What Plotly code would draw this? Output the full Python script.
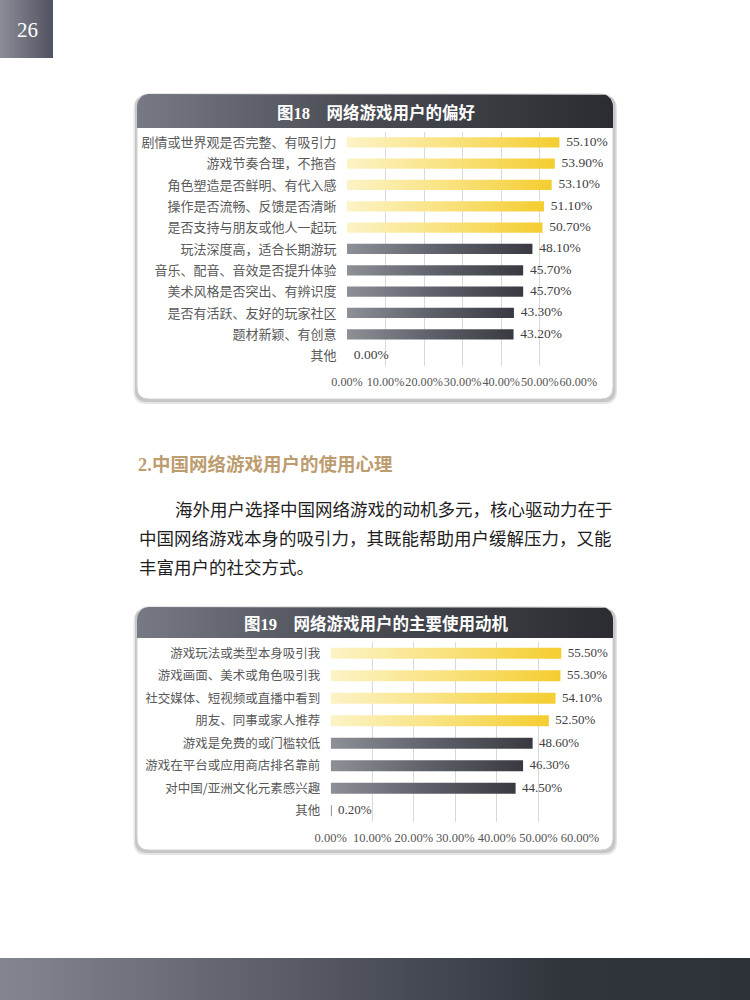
import numpy as np
import plotly.graph_objects as go

# Chart data
pref_labels = ["剧情或世界观是否完整、有吸引力", "游戏节奏合理，不拖沓", "角色塑造是否鲜明、有代入感",
               "操作是否流畅、反馈是否清晰", "是否支持与朋友或他人一起玩", "玩法深度高，适合长期游玩",
               "音乐、配音、音效是否提升体验", "美术风格是否突出、有辨识度", "是否有活跃、友好的玩家社区",
               "题材新颖、有创意", "其他"]
pref_values = [55.1, 53.9, 53.1, 51.1, 50.7, 48.1, 45.7, 45.7, 43.3, 43.2, 0.0]

motive_labels = ["游戏玩法或类型本身吸引我", "游戏画面、美术或角色吸引我", "社交媒体、短视频或直播中看到",
                 "朋友、同事或家人推荐", "游戏是免费的或门槛较低", "游戏在平台或应用商店排名靠前",
                 "对中国/亚洲文化元素感兴趣", "其他"]
motive_values = [55.5, 55.3, 54.1, 52.5, 48.6, 46.3, 44.5, 0.2]

x_ticks = [0, 10, 20, 30, 40, 50, 60]
x_tick_labels = ["0.00%", "10.00%", "20.00%", "30.00%", "40.00%", "50.00%", "60.00%"]

title18 = "网络游戏用户的偏好"
title19 = "网络游戏用户的主要使用动机"
section_title = "中国网络游戏用户的使用心理"
para_lines = ["海外用户选择中国网络游戏的动机多元，核心驱动力在于",
              "中国网络游戏本身的吸引力，其既能帮助用户缓解压力，又能",
              "丰富用户的社交方式。"]

W, H = 750, 1000
SANS = "Noto Sans CJK SC"
SERIF = "Liberation Serif"
GOLD = [[0, "#fcf3c6"], [0.5, "#f9e27e"], [1, "#f4cd30"]]
DARK = [[0, "#8e9098"], [0.5, "#5f616a"], [1, "#393a41"]]


def fx(px):
    return px / W


def fy(py):
    return 1 - py / H


def rounded(x0, y0, x1, y1, r, top=True, bottom=True, n=10):
    xs, ys = [], []
    corners = [(x0 + r, y0 + r, 180, 270, top), (x1 - r, y0 + r, 270, 360, top),
               (x1 - r, y1 - r, 0, 90, bottom), (x0 + r, y1 - r, 90, 180, bottom)]
    sq = [(x0, y0), (x1, y0), (x1, y1), (x0, y1)]
    for k, (cx, cy, a0, a1, rnd) in enumerate(corners):
        if rnd:
            t = np.radians(np.linspace(a0, a1, n))
            xs += list(cx + r * np.cos(t))
            ys += list(cy + r * np.sin(t))
        else:
            xs.append(sq[k][0])
            ys.append(sq[k][1])
    return xs + [xs[0]], ys + [ys[0]]


def shape_path(x0, y0, x1, y1, r):
    return (f"M{x0},{y0 + r} Q{x0},{y0} {x0 + r},{y0} L{x1 - r},{y0} Q{x1},{y0} {x1},{y0 + r} "
            f"L{x1},{y1 - r} Q{x1},{y1} {x1 - r},{y1} L{x0 + r},{y1} Q{x0},{y1} {x0},{y1 - r} Z")


fig = go.Figure()


def decor(xs, ys, scale, direction="horizontal"):
    fig.add_trace(go.Scatter(x=xs, y=ys, fill="toself", mode="lines", line=dict(width=0),
                             fillcolor=scale[-1][1],
                             fillgradient=dict(type=direction, colorscale=scale),
                             xaxis="x", yaxis="y", hoverinfo="skip", showlegend=False))


# page decorations (pixel axis)
HEAD = [[0, "#777a84"], [0.45, "#4b4d55"], [1, "#2a2c31"]]
decor([0, 53, 53, 0, 0], [0, 0, 58, 58, 0], [[0, "#8a8d98"], [1, "#515460"]])
decor([0, 750, 750, 0, 0], [958, 958, 1000, 1000, 958],
      [[0, "#83858f"], [0.45, "#52555e"], [0.75, "#30353c"], [1, "#2d3238"]])
for (y0, y1) in [(94, 128), (607, 638)]:
    xs, ys = rounded(137, y0, 613, y1 + 12, 12, top=True, bottom=False)
    ys = [min(v, y1) for v in ys]
    decor(xs, ys, HEAD)

shapes = []
for (y0, y1) in [(94, 399), (607, 850)]:
    shapes.append(dict(type="path", xref="x", yref="y", layer="below",
                       path=shape_path(133.5, y0 + 2, 617, y1 + 5, 13),
                       fillcolor="#d4d4d4", line=dict(width=0), opacity=0.6))
    shapes.append(dict(type="path", xref="x", yref="y", layer="below",
                       path=shape_path(135, y0 + 1, 615.5, y1 + 3, 12),
                       fillcolor="#b0b0b0", line=dict(width=0), opacity=0.6))
    shapes.append(dict(type="path", xref="x", yref="y", layer="below",
                       path=shape_path(137, y0, 613, y1, 12),
                       fillcolor="white", line=dict(color="#d0d0d0", width=1)))


def add_chart(labels, values, n_gold, xa, ya, h, fsize):
    for i, v in enumerate(values):
        if v <= 0:
            continue
        scale = GOLD if i < n_gold else DARK
        fig.add_trace(go.Scatter(x=[0, v, v, 0, 0], y=[i - h, i - h, i + h, i + h, i - h],
                                 fill="toself", mode="lines", line=dict(width=0),
                                 fillcolor=scale[-1][1],
                                 fillgradient=dict(type="horizontal", colorscale=scale),
                                 xaxis=xa, yaxis=ya, hoverinfo="skip", showlegend=False))
    fig.add_trace(go.Scatter(x=values, y=list(range(len(values))), mode="text",
                             text=["\u00a0\u00a0" + f"{v:.2f}%" for v in values],
                             textposition="middle right", cliponaxis=False,
                             textfont=dict(family=SERIF, size=fsize, color="#404040"),
                             xaxis=xa, yaxis=ya, hoverinfo="skip", showlegend=False))


add_chart(pref_labels, pref_values, 5, "x2", "y2", 0.24, 13.5)
add_chart(motive_labels, motive_values, 4, "x3", "y3", 0.24, 13)

xcommon = dict(range=[0, 60], tickvals=x_ticks, ticktext=x_tick_labels, showgrid=True,
               gridcolor="#d9d9d9", gridwidth=1, zeroline=False, showline=False,
               ticks="outside", ticklen=4, tickcolor="rgba(0,0,0,0)",
               tickangle=0, automargin=False, fixedrange=True)
ycommon = dict(showgrid=False, zeroline=False, ticks="outside", ticklen=7,
               tickcolor="rgba(0,0,0,0)", automargin=False, fixedrange=True)

fig.update_layout(
    width=W, height=H, margin=dict(l=0, r=0, t=0, b=0, autoexpand=False),
    paper_bgcolor="white", plot_bgcolor="rgba(0,0,0,0)", showlegend=False,
    xaxis=dict(domain=[0, 1], range=[0, W], visible=False, fixedrange=True, automargin=False),
    yaxis=dict(domain=[0, 1], range=[H, 0], visible=False, fixedrange=True, automargin=False),
    xaxis2=dict(domain=[fx(347), fx(578.3)], anchor="y2",
                tickfont=dict(family=SERIF, size=12.2, color="#555555"), **xcommon),
    yaxis2=dict(domain=[fy(366.3), fy(131.65)], anchor="x2", range=[len(pref_values) - 0.5, -0.5],
                tickvals=list(range(len(pref_labels))), ticktext=pref_labels,
                tickfont=dict(family=SANS, size=13, color="#595959"), **ycommon),
    xaxis3=dict(domain=[fx(330.7), fx(580)], anchor="y3",
                tickfont=dict(family=SERIF, size=12.5, color="#555555"), **xcommon),
    yaxis3=dict(domain=[fy(822), fy(642)], anchor="x3", range=[len(motive_values) - 0.5, -0.5],
                tickvals=list(range(len(motive_labels))), ticktext=motive_labels,
                tickfont=dict(family=SANS, size=12.5, color="#595959"), **ycommon),
    shapes=shapes,
)

ann = []


def note(x, y, text, font, xanchor="left"):
    ann.append(dict(x=x, y=y, xref="x", yref="y", text=text, showarrow=False,
                    xanchor=xanchor, yanchor="middle", font=font))


note(27, 30, "26", dict(family=SERIF, size=21, color="white"), "center")
for txt, num, cx, cy in [(title18, "18", 376, 111.5), (title19, "19", 376, 623)]:
    note(cx, cy, f"<b>图<span style='font-family:{SERIF}'>{num}</span>\u3000{txt}</b>",
         dict(family=SANS, size=16.5, color="white"), "center")
note(136, 463, f"<b><span style='font-family:{SERIF}'>2.</span>{section_title}</b>",
     dict(family=SANS, size=18.5, color="#bd9c70"))
for k, (line, y) in enumerate(zip(para_lines, [508, 537.5, 566.5])):
    note(173 if k == 0 else 137, y, line, dict(family=SANS, size=17.5, color="#1e1e1e"))
fig.update_layout(annotations=ann)

fig.write_html("out.html", config={"displayModeBar": False},
               post_script="document.body.style.margin='0px';")
